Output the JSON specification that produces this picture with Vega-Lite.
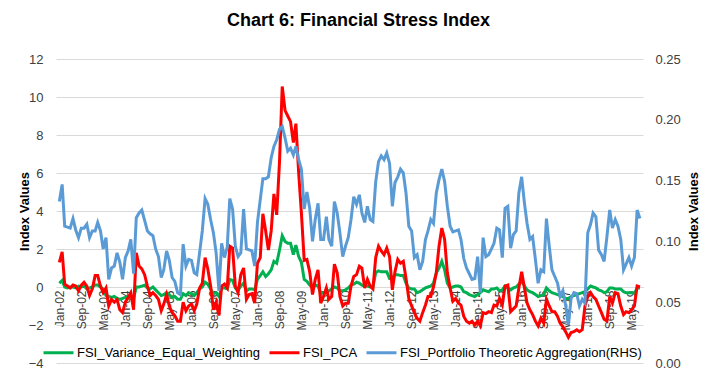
{
"$schema": "https://vega.github.io/schema/vega-lite/v6.json",
"width": 587, "height": 304,
"autosize": {"type": "none"},
"padding": {"left": 56, "top": 59, "right": 72, "bottom": 27},
"background": "white",
"title": {"text": "Chart 6: Financial Stress Index", "font": "Liberation Sans", "fontSize": 18, "fontWeight": "bold", "color": "#000000", "anchor": "middle", "offset": 23, "dx": 9},
"config": {"view": {"stroke": null}, "font": "Liberation Sans"},
"data": {"values": [
{"date":"2002-01-01","ew":0.2,"pca":1.3,"pta":0.1328},
{"date":"2002-02-01","ew":0.35,"pca":1.85,"pta":0.1469},
{"date":"2002-03-01","ew":0.0,"pca":0.15,"pta":0.1125},
{"date":"2002-04-01","ew":-0.05,"pca":0.05,"pta":0.1117},
{"date":"2002-05-01","ew":0.0,"pca":-0.05,"pta":0.1109},
{"date":"2002-06-01","ew":0.0,"pca":0.1,"pta":0.1188},
{"date":"2002-07-01","ew":-0.05,"pca":0.05,"pta":0.1094},
{"date":"2002-08-01","ew":0.05,"pca":-0.2,"pta":0.1031},
{"date":"2002-09-01","ew":0.0,"pca":0.1,"pta":0.1109},
{"date":"2002-10-01","ew":0.05,"pca":0.25,"pta":0.1109},
{"date":"2002-11-01","ew":-0.1,"pca":0.05,"pta":0.1141},
{"date":"2002-12-01","ew":-0.05,"pca":-0.45,"pta":0.1031},
{"date":"2003-01-01","ew":0.0,"pca":-0.1,"pta":0.1086},
{"date":"2003-02-01","ew":0.1,"pca":0.6,"pta":0.1086},
{"date":"2003-03-01","ew":0.1,"pca":0.6,"pta":0.1156},
{"date":"2003-04-01","ew":0.0,"pca":0.05,"pta":0.1086},
{"date":"2003-05-01","ew":-0.1,"pca":-0.3,"pta":0.0938},
{"date":"2003-06-01","ew":-0.45,"pca":-0.05,"pta":0.1031},
{"date":"2003-07-01","ew":-0.5,"pca":-1.0,"pta":0.0688},
{"date":"2003-08-01","ew":-0.55,"pca":-0.65,"pta":0.0781},
{"date":"2003-09-01","ew":-0.5,"pca":-0.8,"pta":0.0797},
{"date":"2003-10-01","ew":-0.6,"pca":-0.65,"pta":0.0906},
{"date":"2003-11-01","ew":-0.65,"pca":-1.2,"pta":0.0828},
{"date":"2003-12-01","ew":-0.6,"pca":-1.35,"pta":0.0688},
{"date":"2004-01-01","ew":-0.55,"pca":-0.8,"pta":0.0867},
{"date":"2004-02-01","ew":-0.5,"pca":-0.55,"pta":0.0922},
{"date":"2004-03-01","ew":-0.6,"pca":-0.3,"pta":0.1016},
{"date":"2004-04-01","ew":-0.6,"pca":-1.2,"pta":0.0734},
{"date":"2004-05-01","ew":0.0,"pca":1.8,"pta":0.1195},
{"date":"2004-06-01","ew":0.0,"pca":1.1,"pta":0.1234},
{"date":"2004-07-01","ew":0.05,"pca":0.95,"pta":0.1258},
{"date":"2004-08-01","ew":0.1,"pca":0.65,"pta":0.1172},
{"date":"2004-09-01","ew":-0.05,"pca":0.05,"pta":0.1086},
{"date":"2004-10-01","ew":-0.1,"pca":-0.45,"pta":0.1063},
{"date":"2004-11-01","ew":0.0,"pca":-0.3,"pta":0.1047},
{"date":"2004-12-01","ew":-0.15,"pca":-0.45,"pta":0.0938},
{"date":"2005-01-01","ew":-0.3,"pca":-0.65,"pta":0.0875},
{"date":"2005-02-01","ew":-0.45,"pca":-1.25,"pta":0.0703},
{"date":"2005-03-01","ew":-0.4,"pca":-0.9,"pta":0.0766},
{"date":"2005-04-01","ew":-0.3,"pca":-0.4,"pta":0.0922},
{"date":"2005-05-01","ew":-0.4,"pca":-1.0,"pta":0.0844},
{"date":"2005-06-01","ew":-0.55,"pca":-1.35,"pta":0.0703},
{"date":"2005-07-01","ew":-0.5,"pca":-1.5,"pta":0.0672},
{"date":"2005-08-01","ew":-0.65,"pca":-1.8,"pta":0.0578},
{"date":"2005-09-01","ew":-0.65,"pca":-1.8,"pta":0.0563},
{"date":"2005-10-01","ew":-0.35,"pca":-0.8,"pta":0.0977},
{"date":"2005-11-01","ew":-0.45,"pca":-1.25,"pta":0.0797},
{"date":"2005-12-01","ew":-0.3,"pca":-1.0,"pta":0.0852},
{"date":"2006-01-01","ew":-0.35,"pca":-0.9,"pta":0.0844},
{"date":"2006-02-01","ew":-0.45,"pca":-1.25,"pta":0.0742},
{"date":"2006-03-01","ew":-0.3,"pca":-0.9,"pta":0.0727},
{"date":"2006-04-01","ew":-0.1,"pca":-0.05,"pta":0.0906},
{"date":"2006-05-01","ew":0.0,"pca":0.2,"pta":0.1086},
{"date":"2006-06-01","ew":0.25,"pca":1.55,"pta":0.1352},
{"date":"2006-07-01","ew":0.15,"pca":0.95,"pta":0.1305},
{"date":"2006-08-01","ew":-0.1,"pca":0.05,"pta":0.118},
{"date":"2006-09-01","ew":-0.35,"pca":-1.2,"pta":0.107},
{"date":"2006-10-01","ew":-0.3,"pca":-0.8,"pta":0.0906},
{"date":"2006-11-01","ew":-0.5,"pca":-1.5,"pta":0.0594},
{"date":"2006-12-01","ew":-0.05,"pca":0.05,"pta":0.0984},
{"date":"2007-01-01","ew":-0.05,"pca":0.15,"pta":0.0867},
{"date":"2007-02-01","ew":-0.1,"pca":-0.05,"pta":0.0953},
{"date":"2007-03-01","ew":0.4,"pca":2.15,"pta":0.1352},
{"date":"2007-04-01","ew":0.35,"pca":2.05,"pta":0.1266},
{"date":"2007-05-01","ew":-0.05,"pca":0.05,"pta":0.0961},
{"date":"2007-06-01","ew":-0.15,"pca":-0.3,"pta":0.0875},
{"date":"2007-07-01","ew":0.05,"pca":0.65,"pta":0.0906},
{"date":"2007-08-01","ew":0.2,"pca":1.0,"pta":0.1266},
{"date":"2007-09-01","ew":-0.2,"pca":-0.65,"pta":0.0938},
{"date":"2007-10-01","ew":-0.1,"pca":-0.4,"pta":0.093},
{"date":"2007-11-01","ew":-0.1,"pca":-0.35,"pta":0.0922},
{"date":"2007-12-01","ew":-0.15,"pca":-0.85,"pta":0.0797},
{"date":"2008-01-01","ew":0.4,"pca":1.25,"pta":0.1156},
{"date":"2008-02-01","ew":0.6,"pca":1.55,"pta":0.1344},
{"date":"2008-03-01","ew":0.8,"pca":3.85,"pta":0.1516},
{"date":"2008-04-01","ew":0.55,"pca":2.95,"pta":0.1516},
{"date":"2008-05-01","ew":0.7,"pca":1.95,"pta":0.1531},
{"date":"2008-06-01","ew":0.9,"pca":2.95,"pta":0.1688},
{"date":"2008-07-01","ew":1.35,"pca":4.9,"pta":0.1781},
{"date":"2008-08-01","ew":1.25,"pca":3.8,"pta":0.1836},
{"date":"2008-09-01","ew":1.95,"pca":6.6,"pta":0.1922},
{"date":"2008-10-01","ew":2.7,"pca":10.55,"pta":0.1945},
{"date":"2008-11-01","ew":2.4,"pca":9.3,"pta":0.1852},
{"date":"2008-12-01","ew":2.3,"pca":9.0,"pta":0.1742},
{"date":"2009-01-01","ew":2.3,"pca":8.7,"pta":0.1766},
{"date":"2009-02-01","ew":1.7,"pca":7.6,"pta":0.1711},
{"date":"2009-03-01","ew":2.2,"pca":8.6,"pta":0.1781},
{"date":"2009-04-01","ew":1.6,"pca":6.0,"pta":0.1672},
{"date":"2009-05-01","ew":1.3,"pca":3.9,"pta":0.1594},
{"date":"2009-06-01","ew":0.4,"pca":1.4,"pta":0.1266},
{"date":"2009-07-01","ew":0.3,"pca":1.45,"pta":0.1406},
{"date":"2009-08-01","ew":0.1,"pca":0.8,"pta":0.1273},
{"date":"2009-09-01","ew":-0.05,"pca":-0.4,"pta":0.1},
{"date":"2009-10-01","ew":0.1,"pca":0.4,"pta":0.118},
{"date":"2009-11-01","ew":0.05,"pca":0.9,"pta":0.1313},
{"date":"2009-12-01","ew":-0.35,"pca":-0.85,"pta":0.1016},
{"date":"2010-01-01","ew":-0.3,"pca":-0.5,"pta":0.1016},
{"date":"2010-02-01","ew":-0.25,"pca":-0.05,"pta":0.1203},
{"date":"2010-03-01","ew":-0.2,"pca":-0.65,"pta":0.1016},
{"date":"2010-04-01","ew":-0.1,"pca":-0.5,"pta":0.0961},
{"date":"2010-05-01","ew":0.0,"pca":1.2,"pta":0.1328},
{"date":"2010-06-01","ew":-0.05,"pca":0.75,"pta":0.1234},
{"date":"2010-07-01","ew":-0.2,"pca":-0.5,"pta":0.107},
{"date":"2010-08-01","ew":-0.2,"pca":-1.0,"pta":0.0875},
{"date":"2010-09-01","ew":-0.15,"pca":-0.85,"pta":0.0961},
{"date":"2010-10-01","ew":-0.05,"pca":-0.85,"pta":0.1031},
{"date":"2010-11-01","ew":0.1,"pca":0.05,"pta":0.118},
{"date":"2010-12-01","ew":0.15,"pca":0.55,"pta":0.1367},
{"date":"2011-01-01","ew":0.25,"pca":0.65,"pta":0.1305},
{"date":"2011-02-01","ew":0.2,"pca":1.1,"pta":0.1383},
{"date":"2011-03-01","ew":0.1,"pca":1.0,"pta":0.1234},
{"date":"2011-04-01","ew":0.05,"pca":-0.05,"pta":0.1156},
{"date":"2011-05-01","ew":0.05,"pca":0.4,"pta":0.1289},
{"date":"2011-06-01","ew":0.0,"pca":0.05,"pta":0.118},
{"date":"2011-07-01","ew":0.0,"pca":-0.1,"pta":0.1164},
{"date":"2011-08-01","ew":0.75,"pca":1.55,"pta":0.1492},
{"date":"2011-09-01","ew":0.85,"pca":2.15,"pta":0.1656},
{"date":"2011-10-01","ew":0.8,"pca":1.9,"pta":0.1703},
{"date":"2011-11-01","ew":0.8,"pca":1.7,"pta":0.1672},
{"date":"2011-12-01","ew":0.8,"pca":2.05,"pta":0.1727},
{"date":"2012-01-01","ew":0.45,"pca":1.6,"pta":0.1641},
{"date":"2012-02-01","ew":0.45,"pca":-0.15,"pta":0.1289},
{"date":"2012-03-01","ew":0.65,"pca":0.8,"pta":0.1484},
{"date":"2012-04-01","ew":0.65,"pca":1.45,"pta":0.1531},
{"date":"2012-05-01","ew":0.6,"pca":1.25,"pta":0.1594},
{"date":"2012-06-01","ew":0.6,"pca":1.35,"pta":0.1563},
{"date":"2012-07-01","ew":0.2,"pca":0.45,"pta":0.1398},
{"date":"2012-08-01","ew":-0.05,"pca":-0.6,"pta":0.1125},
{"date":"2012-09-01","ew":-0.1,"pca":-1.0,"pta":0.1086},
{"date":"2012-10-01","ew":-0.1,"pca":-1.35,"pta":0.0867},
{"date":"2012-11-01","ew":-0.3,"pca":-1.65,"pta":0.0891},
{"date":"2012-12-01","ew":-0.25,"pca":-1.8,"pta":0.0766},
{"date":"2013-01-01","ew":-0.15,"pca":-1.35,"pta":0.0836},
{"date":"2013-02-01","ew":-0.05,"pca":-0.95,"pta":0.1016},
{"date":"2013-03-01","ew":0.0,"pca":-0.5,"pta":0.1086},
{"date":"2013-04-01","ew":0.05,"pca":-0.5,"pta":0.118},
{"date":"2013-05-01","ew":0.2,"pca":0.0,"pta":0.1148},
{"date":"2013-06-01","ew":0.75,"pca":0.75,"pta":0.1398},
{"date":"2013-07-01","ew":1.0,"pca":2.15,"pta":0.1508},
{"date":"2013-08-01","ew":1.35,"pca":3.1,"pta":0.1594},
{"date":"2013-09-01","ew":0.9,"pca":2.5,"pta":0.1492},
{"date":"2013-10-01","ew":0.2,"pca":0.75,"pta":0.1289},
{"date":"2013-11-01","ew":-0.05,"pca":-0.05,"pta":0.1125},
{"date":"2013-12-01","ew":0.0,"pca":-0.75,"pta":0.1078},
{"date":"2014-01-01","ew":0.05,"pca":-0.6,"pta":0.1086},
{"date":"2014-02-01","ew":0.05,"pca":-0.85,"pta":0.1094},
{"date":"2014-03-01","ew":0.0,"pca":-0.95,"pta":0.1016},
{"date":"2014-04-01","ew":-0.25,"pca":-1.55,"pta":0.0859},
{"date":"2014-05-01","ew":-0.3,"pca":-1.8,"pta":0.0781},
{"date":"2014-06-01","ew":-0.4,"pca":-1.9,"pta":0.0734},
{"date":"2014-07-01","ew":-0.45,"pca":-1.8,"pta":0.0688},
{"date":"2014-08-01","ew":-0.5,"pca":-2.0,"pta":0.0695},
{"date":"2014-09-01","ew":-0.4,"pca":-1.8,"pta":0.0875},
{"date":"2014-10-01","ew":-0.3,"pca":-2.05,"pta":0.0578},
{"date":"2014-11-01","ew":-0.15,"pca":-1.35,"pta":0.1031},
{"date":"2014-12-01","ew":-0.2,"pca":-1.4,"pta":0.0875},
{"date":"2015-01-01","ew":-0.25,"pca":-1.3,"pta":0.0891},
{"date":"2015-02-01","ew":-0.1,"pca":-1.35,"pta":0.0938},
{"date":"2015-03-01","ew":-0.1,"pca":-0.95,"pta":0.0984},
{"date":"2015-04-01","ew":-0.05,"pca":-1.0,"pta":0.1109},
{"date":"2015-05-01","ew":-0.2,"pca":-0.6,"pta":0.1094},
{"date":"2015-06-01","ew":-0.15,"pca":-0.95,"pta":0.0867},
{"date":"2015-07-01","ew":0.05,"pca":0.05,"pta":0.1273},
{"date":"2015-08-01","ew":-0.05,"pca":0.1,"pta":0.1289},
{"date":"2015-09-01","ew":-0.15,"pca":-1.3,"pta":0.0945},
{"date":"2015-10-01","ew":-0.05,"pca":-1.15,"pta":0.1055},
{"date":"2015-11-01","ew":0.0,"pca":-1.0,"pta":0.1086},
{"date":"2015-12-01","ew":0.15,"pca":-0.05,"pta":0.1398},
{"date":"2016-01-01","ew":0.3,"pca":0.8,"pta":0.1531},
{"date":"2016-02-01","ew":0.05,"pca":-0.05,"pta":0.1313},
{"date":"2016-03-01","ew":-0.15,"pca":-0.85,"pta":0.1148},
{"date":"2016-04-01","ew":-0.25,"pca":-1.2,"pta":0.1016},
{"date":"2016-05-01","ew":-0.3,"pca":-1.45,"pta":0.1039},
{"date":"2016-06-01","ew":-0.4,"pca":-1.8,"pta":0.0852},
{"date":"2016-07-01","ew":-0.5,"pca":-2.05,"pta":0.0656},
{"date":"2016-08-01","ew":-0.45,"pca":-1.65,"pta":0.0766},
{"date":"2016-09-01","ew":-0.4,"pca":-1.9,"pta":0.075},
{"date":"2016-10-01","ew":-0.05,"pca":-0.65,"pta":0.1188},
{"date":"2016-11-01","ew":-0.2,"pca":-1.0,"pta":0.0961},
{"date":"2016-12-01","ew":-0.3,"pca":-1.3,"pta":0.0766},
{"date":"2017-01-01","ew":-0.35,"pca":-1.3,"pta":0.0711},
{"date":"2017-02-01","ew":-0.4,"pca":-1.55,"pta":0.0656},
{"date":"2017-03-01","ew":-0.45,"pca":-1.9,"pta":0.0547},
{"date":"2017-04-01","ew":-0.5,"pca":-2.1,"pta":0.0594},
{"date":"2017-05-01","ew":-0.6,"pca":-2.35,"pta":0.0477},
{"date":"2017-06-01","ew":-0.6,"pca":-2.65,"pta":0.0313},
{"date":"2017-07-01","ew":-0.5,"pca":-2.4,"pta":0.0531},
{"date":"2017-08-01","ew":-0.45,"pca":-2.35,"pta":0.0578},
{"date":"2017-09-01","ew":-0.4,"pca":-2.25,"pta":0.057},
{"date":"2017-10-01","ew":-0.35,"pca":-2.35,"pta":0.0469},
{"date":"2017-11-01","ew":-0.3,"pca":-2.25,"pta":0.0523},
{"date":"2017-12-01","ew":-0.25,"pca":-1.0,"pta":0.0492},
{"date":"2018-01-01","ew":-0.1,"pca":-0.5,"pta":0.107},
{"date":"2018-02-01","ew":0.05,"pca":-0.3,"pta":0.1141},
{"date":"2018-03-01","ew":0.0,"pca":-0.5,"pta":0.1234},
{"date":"2018-04-01","ew":-0.05,"pca":-0.65,"pta":0.1203},
{"date":"2018-05-01","ew":-0.15,"pca":-1.0,"pta":0.093},
{"date":"2018-06-01","ew":-0.2,"pca":-1.35,"pta":0.0891},
{"date":"2018-07-01","ew":-0.3,"pca":-1.7,"pta":0.0836},
{"date":"2018-08-01","ew":-0.25,"pca":-1.8,"pta":0.1039},
{"date":"2018-09-01","ew":-0.05,"pca":-0.5,"pta":0.1258},
{"date":"2018-10-01","ew":-0.05,"pca":-0.85,"pta":0.1109},
{"date":"2018-11-01","ew":-0.1,"pca":-0.3,"pta":0.118},
{"date":"2018-12-01","ew":-0.1,"pca":-0.35,"pta":0.1125},
{"date":"2019-01-01","ew":-0.1,"pca":-1.0,"pta":0.1016},
{"date":"2019-02-01","ew":-0.25,"pca":-1.45,"pta":0.0766},
{"date":"2019-03-01","ew":-0.3,"pca":-1.3,"pta":0.0813},
{"date":"2019-04-01","ew":-0.3,"pca":-1.35,"pta":0.0867},
{"date":"2019-05-01","ew":-0.3,"pca":-1.2,"pta":0.0797},
{"date":"2019-06-01","ew":-0.35,"pca":-1.0,"pta":0.0867},
{"date":"2019-07-01","ew":-0.05,"pca":0.05,"pta":0.1258},
{"date":"2019-08-01","ew":-0.05,"pca":0.0,"pta":0.1188}
]},
"encoding": {
  "x": {"field": "date", "type": "temporal",
    "scale": {"type": "utc", "domain": [{"year": 2001, "month": 11, "date": 25, "utc": true}, {"year": 2019, "month": 9, "date": 4, "utc": true}]},
    "axis": {"title": null, "format": "%b-%y", "labelAngle": 270, "labelFontSize": 12, "labelColor": "#404040", "labelPadding": 3, "labelOverlap": false, "labelFlush": false, "grid": false, "ticks": false, "tickSize": 0, "domain": true, "domainColor": "#d9d9d9", "offset": -76,
      "values": [
        {"year": 2002, "month": 1, "date": 1, "utc": true},
        {"year": 2002, "month": 9, "date": 1, "utc": true},
        {"year": 2003, "month": 5, "date": 1, "utc": true},
        {"year": 2004, "month": 1, "date": 1, "utc": true},
        {"year": 2004, "month": 9, "date": 1, "utc": true},
        {"year": 2005, "month": 5, "date": 1, "utc": true},
        {"year": 2006, "month": 1, "date": 1, "utc": true},
        {"year": 2006, "month": 9, "date": 1, "utc": true},
        {"year": 2007, "month": 5, "date": 1, "utc": true},
        {"year": 2008, "month": 1, "date": 1, "utc": true},
        {"year": 2008, "month": 9, "date": 1, "utc": true},
        {"year": 2009, "month": 5, "date": 1, "utc": true},
        {"year": 2010, "month": 1, "date": 1, "utc": true},
        {"year": 2010, "month": 9, "date": 1, "utc": true},
        {"year": 2011, "month": 5, "date": 1, "utc": true},
        {"year": 2012, "month": 1, "date": 1, "utc": true},
        {"year": 2012, "month": 9, "date": 1, "utc": true},
        {"year": 2013, "month": 5, "date": 1, "utc": true},
        {"year": 2014, "month": 1, "date": 1, "utc": true},
        {"year": 2014, "month": 9, "date": 1, "utc": true},
        {"year": 2015, "month": 5, "date": 1, "utc": true},
        {"year": 2016, "month": 1, "date": 1, "utc": true},
        {"year": 2016, "month": 9, "date": 1, "utc": true},
        {"year": 2017, "month": 5, "date": 1, "utc": true},
        {"year": 2018, "month": 1, "date": 1, "utc": true},
        {"year": 2018, "month": 9, "date": 1, "utc": true},
        {"year": 2019, "month": 5, "date": 1, "utc": true}
      ]}
  }
},
"layer": [
  {"layer": [
    {"mark": {"type": "line", "strokeWidth": 3},
     "encoding": {
       "y": {"field": "ew", "type": "quantitative", "scale": {"domain": [-4, 12], "nice": false, "zero": false},
         "axis": {"title": "Index Values", "values": [-4, -2, 0, 2, 4, 6, 8, 10, 12], "grid": true, "gridColor": "#d9d9d9", "domain": false, "ticks": false, "tickSize": 0, "labelPadding": 13, "labelFontSize": 13, "labelColor": "#404040", "titleFontSize": 13, "titleFontWeight": "bold", "titleColor": "#000000", "titlePadding": -3}},
       "color": {"datum": "FSI_Variance_Equal_Weighting", "type": "nominal",
         "scale": {"domain": ["FSI_Variance_Equal_Weighting", "FSI_PCA", "FSI_Portfolio Theoretic Aggregation(RHS)"], "range": ["#00B050", "#FF0000", "#5B9BD5"]},
         "legend": {"title": null, "orient": "none", "legendX": -14, "legendY": 277, "direction": "horizontal", "symbolType": "stroke", "symbolSize": 900, "symbolStrokeWidth": 3, "labelFontSize": 13, "labelColor": "#000000", "labelOffset": 2, "labelLimit": 400, "columnPadding": 2, "padding": 0}}
     }},
    {"mark": {"type": "line", "strokeWidth": 3},
     "encoding": {
       "y": {"field": "pca", "type": "quantitative", "scale": {"domain": [-4, 12], "nice": false, "zero": false},
         "axis": {"title": "Index Values", "values": [-4, -2, 0, 2, 4, 6, 8, 10, 12], "grid": true, "gridColor": "#d9d9d9", "domain": false, "ticks": false, "tickSize": 0, "labelPadding": 13, "labelFontSize": 13, "labelColor": "#404040", "titleFontSize": 13, "titleFontWeight": "bold", "titleColor": "#000000", "titlePadding": -3}},
       "color": {"datum": "FSI_PCA", "type": "nominal"}
     }}
  ]},
  {"mark": {"type": "line", "strokeWidth": 3},
   "encoding": {
     "y": {"field": "pta", "type": "quantitative", "scale": {"domain": [0, 0.25], "nice": false, "zero": false},
       "axis": {"orient": "right", "title": "Index Values", "values": [0, 0.05, 0.1, 0.15, 0.2, 0.25], "format": ".2f", "grid": false, "domain": false, "ticks": false, "tickSize": 0, "labelPadding": 12, "labelFontSize": 13, "labelColor": "#404040", "titleFontSize": 13, "titleFontWeight": "bold", "titleColor": "#000000", "titleAngle": 270, "titlePadding": 20}},
     "color": {"datum": "FSI_Portfolio Theoretic Aggregation(RHS)", "type": "nominal"}
   }}
],
"resolve": {"scale": {"y": "independent"}}
}
